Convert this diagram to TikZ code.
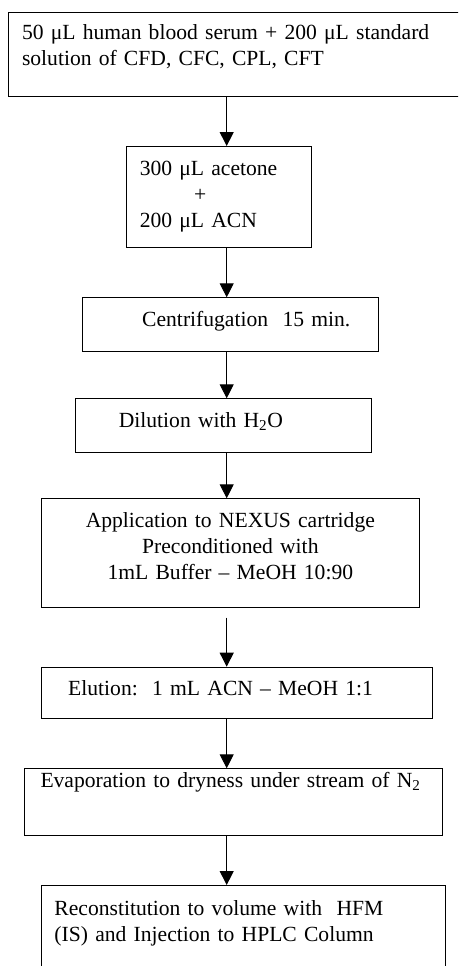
\documentclass[tikz,border=0pt]{standalone}
\usepackage{fontspec}
\setmainfont{Liberation Serif}
\usetikzlibrary{arrows.meta}

\begin{document}
\begin{tikzpicture}[x=1pt,y=1pt]
		\tikzset{stepbox/.style = {draw, line width=1pt, anchor=north west, inner sep=0pt, align=left, font=\fontsize{21.6}{26.2}\selectfont}}
		\tikzset{edge/.style = {-{Triangle[width=14pt,length=14pt]}, line width=1pt}}
		\useasboundingbox (0,0) rectangle (458,-966);
		\clip (0,0) rectangle (458,-966);
		\coordinate (axis) at (226.7,0);
		\node[stepbox, text width=470pt, text height=27.3pt, text depth=56.7pt] (1) at (8,-12)
			{\hspace*{13.5pt}50 μL human blood serum + 200 μL standard\\ \hspace*{13.5pt}solution of CFD, CFC, CPL, CFT};
		\node[stepbox, text width=185pt, text height=29pt, text depth=71.7pt] (2) at (125.7,-146)
			{\hspace*{13.6pt}300 μL acetone\\ \hspace*{68pt}+\\ \hspace*{13.6pt}200 μL ACN};
		\node[stepbox, text width=296pt, text height=28.7pt, text depth=25.3pt] (3) at (81.7,-297.3)
			{\hspace*{60pt}Centrifugation\ \ 15 min.};
		\node[stepbox, text width=296pt, text height=28.4pt, text depth=25.3pt] (4) at (75,-398.3)
			{\hspace*{43.3pt}Dilution with H\textsubscript{2}O};
		\node[stepbox, align=center, text width=377.7pt, text height=28.4pt, text depth=80pt] (5) at (41,-498.3)
			{Application to NEXUS cartridge\\ Preconditioned with\\ 1mL Buffer – MeOH 10:90};
		\node[stepbox, text width=390.7pt, text height=28.3pt, text depth=22.7pt] (6) at (41,-666.7)
			{\hspace*{26.7pt}Elution:\ \ 1 mL ACN – MeOH 1:1};
		\node[stepbox, text width=418pt, text height=19pt, text depth=47.7pt] (7) at (24.3,-768.3)
			{\hspace*{15.7pt}Evaporation to dryness under stream of N\textsubscript{2}};
		\node[stepbox, text width=404pt, text height=30pt, text depth=100pt] (8) at (41,-885)
			{\hspace*{13pt}Reconstitution to volume with\ \ HFM\\ \hspace*{13pt}(IS) and Injection to HPLC Column};
		%edges
		\draw[edge] (1.south -| axis) to (2.north -| axis);
		\draw[edge] (2.south -| axis) to (3.north -| axis);
		\draw[edge] (3.south -| axis) to (4.north -| axis);
		\draw[edge] (4.south -| axis) to (5.north -| axis);
		\draw[edge, shorten <=10pt] (5.south -| axis) to (6.north -| axis);
		\draw[edge] (6.south -| axis) to (7.north -| axis);
		\draw[edge] (7.south -| axis) to (8.north -| axis);
\end{tikzpicture}
\end{document}
